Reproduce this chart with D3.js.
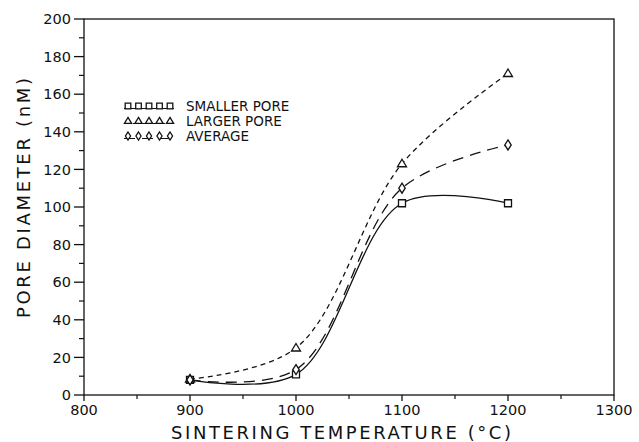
<!DOCTYPE html>
<meta charset="utf-8">
<style>
    body { margin: 0; background: #fff; }
    text { font-family: "DejaVu Sans", sans-serif; fill: #111; }
    .tick-label { font-size: 14.5px; }
    .axis-title { font-size: 18px; }
    .legend-label { font-size: 13.5px; }
</style>
<script src="https://d3js.org/d3.v7.min.js"></script>
<div id="chart"></div>
<script>
// data
var temps = [900, 1000, 1100, 1200];
var smallerPore = [8, 11, 102, 102];
var largerPore = [8.5, 25, 123, 171];
var averagePore = [8, 13.5, 110, 133];

var xTicks = [800, 900, 1000, 1100, 1200, 1300];
var yTicks = [0, 20, 40, 60, 80, 100, 120, 140, 160, 180, 200];
var seriesNames = ["SMALLER PORE", "LARGER PORE", "AVERAGE"];

var width = 639, height = 442;
var svg = d3.select("#chart").append("svg")
    .attr("width", width)
    .attr("height", height);

var x = d3.scaleLinear().domain([800, 1300]).range([84, 614]);
var y = d3.scaleLinear().domain([0, 200]).range([395, 19]);

// frame
svg.append("rect")
    .attr("x", x(800)).attr("y", y(200))
    .attr("width", x(1300) - x(800)).attr("height", y(0) - y(200))
    .attr("fill", "none").attr("stroke", "#111").attr("stroke-width", 1.3);

// x axis
var xAxis = svg.append("g").attr("transform", "translate(0," + y(0) + ")");
xAxis.selectAll("line.minor")
    .data(d3.range(850, 1300, 100))
    .enter().append("line")
    .attr("x1", function(d) { return x(d); }).attr("x2", function(d) { return x(d); })
    .attr("y1", 0).attr("y2", 4)
    .attr("stroke", "#111").attr("stroke-width", 1.2);
xAxis.selectAll("line.major")
    .data(xTicks)
    .enter().append("line")
    .attr("x1", function(d) { return x(d); }).attr("x2", function(d) { return x(d); })
    .attr("y1", 0).attr("y2", 6)
    .attr("stroke", "#111").attr("stroke-width", 1.3);
xAxis.selectAll("text")
    .data(xTicks)
    .enter().append("text")
    .attr("class", "tick-label")
    .attr("x", function(d) { return x(d); })
    .attr("y", 20)
    .attr("text-anchor", "middle")
    .text(function(d) { return d; });

// y axis
var yAxis = svg.append("g").attr("transform", "translate(" + x(800) + ",0)");
yAxis.selectAll("line.minor")
    .data(d3.range(10, 200, 20))
    .enter().append("line")
    .attr("x1", -5).attr("x2", 0)
    .attr("y1", function(d) { return y(d); }).attr("y2", function(d) { return y(d); })
    .attr("stroke", "#111").attr("stroke-width", 1.2);
yAxis.selectAll("line.major")
    .data(yTicks)
    .enter().append("line")
    .attr("x1", -10).attr("x2", 0)
    .attr("y1", function(d) { return y(d); }).attr("y2", function(d) { return y(d); })
    .attr("stroke", "#111").attr("stroke-width", 1.3);
yAxis.selectAll("text")
    .data(yTicks)
    .enter().append("text")
    .attr("class", "tick-label")
    .attr("x", -13)
    .attr("y", function(d) { return y(d); })
    .attr("dy", "0.36em")
    .attr("text-anchor", "end")
    .text(function(d) { return d; });

// axis titles
svg.append("text")
    .attr("class", "axis-title")
    .attr("x", 341).attr("y", 439)
    .attr("text-anchor", "middle")
    .attr("textLength", 340).attr("lengthAdjust", "spacing")
    .text("SINTERING TEMPERATURE (\u00B0C)");
svg.append("text")
    .attr("class", "axis-title")
    .attr("transform", "translate(30,198) rotate(-90)")
    .attr("text-anchor", "middle")
    .attr("textLength", 240).attr("lengthAdjust", "spacing")
    .text("PORE DIAMETER (nM)");

// series
var series = [
    { name: seriesNames[0], values: smallerPore, dash: null, shape: "square" },
    { name: seriesNames[1], values: largerPore, dash: "5,4", shape: "triangle" },
    { name: seriesNames[2], values: averagePore, dash: "11,7", shape: "diamond" }
];

var line = d3.line()
    .x(function(d) { return x(d[0]); })
    .y(function(d) { return y(d[1]); })
    .curve(d3.curveCatmullRom.alpha(0.5));

function marker(sel, shape, k) {
    var p;
    if (shape === "square") p = "M-3.5,-3.5H3.5V3.5H-3.5Z";
    else if (shape === "triangle") p = "M0,-4.5L4.5,3L-4.5,3Z";
    else p = "M0,-5L3.2,0L0,5L-3.2,0Z";
    sel.append("path").attr("d", p)
        .attr("transform", "scale(" + (k || 1) + ")")
        .attr("fill", "#fff").attr("stroke", "#111")
        .attr("stroke-width", 1.3 / (k || 1));
}

series.forEach(function(s) {
    var pts = temps.map(function(t, i) { return [t, s.values[i]]; });
    svg.append("path")
        .attr("d", line(pts))
        .attr("fill", "none")
        .attr("stroke", "#111")
        .attr("stroke-width", 1.3)
        .attr("stroke-dasharray", s.dash);
    pts.forEach(function(p) {
        var g = svg.append("g").attr("transform", "translate(" + x(p[0]) + "," + y(p[1]) + ")");
        marker(g, s.shape);
    });
});

// legend
var legend = svg.append("g");
series.forEach(function(s, i) {
    var ly = 106 + i * 15;
    legend.append("line")
        .attr("x1", 124).attr("x2", 174)
        .attr("y1", ly + 2.5).attr("y2", ly + 2.5)
        .attr("stroke", "#111").attr("stroke-width", 1.1)
        .attr("stroke-dasharray", s.dash);
    d3.range(5).forEach(function(k) {
        var g = legend.append("g").attr("transform", "translate(" + (128 + k * 10.5) + "," + ly + ")");
        marker(g, s.shape, 0.8);
    });
    legend.append("text")
        .attr("class", "legend-label")
        .attr("x", 186).attr("y", ly)
        .attr("dy", "0.36em")
        .text(s.name);
});
</script>
